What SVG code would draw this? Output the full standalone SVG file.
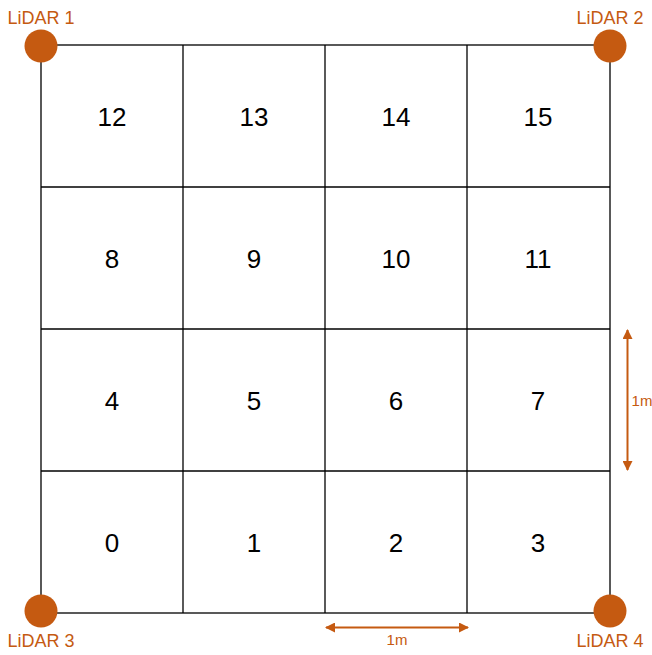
<svg xmlns="http://www.w3.org/2000/svg" width="652" height="655" viewBox="0 0 652 655">
<defs>
<marker id="ah" viewBox="0 0 10 10" refX="9" refY="5" markerWidth="10" markerHeight="10" markerUnits="userSpaceOnUse" orient="auto-start-reverse">
<path d="M0,0 L10,5 L0,10 z" fill="#C55A11"/>
</marker>
<style>
.g{stroke:#000;stroke-width:1.3;fill:none}
.n{font-family:"Liberation Sans",Arial,sans-serif;font-size:26px;fill:#000;text-anchor:middle;dominant-baseline:central}
.l{font-family:"Liberation Sans",Arial,sans-serif;font-size:18px;fill:#C55A11;text-anchor:middle}
.m{font-family:"Liberation Sans",Arial,sans-serif;font-size:15px;fill:#C55A11;text-anchor:middle}
.d{fill:#C55A11}
.a{stroke:#C55A11;stroke-width:2;fill:none;marker-start:url(#ah);marker-end:url(#ah)}
</style>
</defs>
<rect width="652" height="655" fill="#fff"/>
<g id="grid" class="g">
<rect x="41" y="45" width="569" height="568"/>
<line x1="183" y1="45" x2="183" y2="613"/>
<line x1="325" y1="45" x2="325" y2="613"/>
<line x1="467" y1="45" x2="467" y2="613"/>
<line x1="41" y1="187" x2="610" y2="187"/>
<line x1="41" y1="329" x2="610" y2="329"/>
<line x1="41" y1="471" x2="610" y2="471"/>
</g>
<g id="cells">
<g id="c12"><text class="n" x="112" y="117">12</text></g>
<g id="c13"><text class="n" x="254" y="117">13</text></g>
<g id="c14"><text class="n" x="396" y="117">14</text></g>
<g id="c15"><text class="n" x="538" y="117">15</text></g>
<g id="c8"><text class="n" x="112" y="259">8</text></g>
<g id="c9"><text class="n" x="254" y="259">9</text></g>
<g id="c10"><text class="n" x="396" y="259">10</text></g>
<g id="c11"><text class="n" x="538" y="259">11</text></g>
<g id="c4"><text class="n" x="112" y="401">4</text></g>
<g id="c5"><text class="n" x="254" y="401">5</text></g>
<g id="c6"><text class="n" x="396" y="401">6</text></g>
<g id="c7"><text class="n" x="538" y="401">7</text></g>
<g id="c0"><text class="n" x="112" y="543">0</text></g>
<g id="c1"><text class="n" x="254" y="543">1</text></g>
<g id="c2"><text class="n" x="396" y="543">2</text></g>
<g id="c3"><text class="n" x="538" y="543">3</text></g>
</g>
<g id="lidar1"><circle class="d" cx="41" cy="46" r="16.5"/><text class="l" x="41" y="24">LiDAR 1</text></g>
<g id="lidar2"><circle class="d" cx="610" cy="46" r="16.5"/><text class="l" x="610" y="24">LiDAR 2</text></g>
<g id="lidar3"><circle class="d" cx="41" cy="611" r="16.5"/><text class="l" x="41" y="647">LiDAR 3</text></g>
<g id="lidar4"><circle class="d" cx="610" cy="611" r="16.5"/><text class="l" x="610" y="647">LiDAR 4</text></g>
<g id="connectors">
<line class="a" x1="627.5" y1="330" x2="627.5" y2="470"/>
<line class="a" x1="326" y1="627.5" x2="468" y2="627.5"/>
</g>
<text class="m" x="642" y="406">1m</text>
<text class="m" x="397" y="645">1m</text>
</svg>
